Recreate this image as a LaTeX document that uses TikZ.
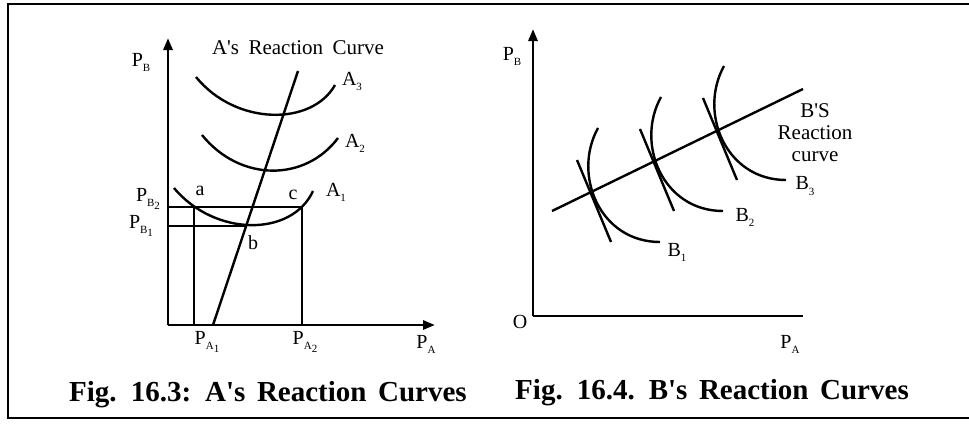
\documentclass[tikz,border=0pt]{standalone}
\usepackage{fontspec}
\setmainfont{Liberation Serif}
\usetikzlibrary{arrows.meta, positioning}
\newcommand\lsub[1]{\raisebox{-0.55ex}{\fontsize{11}{11}\selectfont #1}}
\newcommand\titlefont{\fontsize{21}{21}\selectfont\spaceskip=0.45em\relax}
\newcommand\capfont{\fontsize{29}{29}\selectfont\bfseries\spaceskip=0.4em\relax}
\tikzset{
  every picture/.style={line width=2.4pt, x=1pt, y=-1pt},
  axis/.style={line width=2.8pt, -{Triangle[length=12pt, width=9pt]}},
  curve/.style={line width=2.4pt},
  lbl/.style={font=\fontsize{20}{20}\selectfont, inner sep=0pt},
  title/.style={font=\titlefont, inner sep=0pt},
  caption/.style={font=\capfont, inner sep=0pt},
}

\begin{document}
\begin{tikzpicture}
  \useasboundingbox (0,0) rectangle (969,423);
  % frame
  \draw[line width=2.4pt] (969,4) -- (8,4) -- (8,418) -- (969,418);

  % ---- Fig. 16.3 ----
  \coordinate (oa) at (168,325);
  \coordinate (ya) at (168,38);
  \coordinate (xa) at (435,325);
  \draw[axis] (oa) -- (ya);
  \draw[axis] (oa) -- (xa);
  % reaction curve of A
  \coordinate (ra0) at (213,325);
  \coordinate (ra1) at (298,71);
  \draw[curve] (ra0) -- (ra1);
  % iso-profit curves
  \draw[curve] (196,77) .. controls (236,126) and (312,126) .. (335,85);
  \draw[curve] (202,135) .. controls (240,182) and (305,182) .. (338,138);
  \draw[curve] (174,188) .. controls (215,237) and (292,237) .. (313,191);
  % price lines
  \coordinate (a) at (194,207);
  \coordinate (b) at (246,226);
  \coordinate (c) at (302,207);
  \coordinate (pb2) at (168,207);
  \coordinate (pb1) at (168,226);
  \coordinate (pa1) at (194,325);
  \coordinate (pa2) at (302,325);
  \draw[curve] (pb2) -- (c) -- (pa2);
  \draw[curve] (a) -- (pa1);
  \draw[curve] (pb1) -- (b);
  % labels
  \node[title] (atitle) at (298,48) {A\textquotesingle s Reaction Curve};
  \node[lbl] (lpb) at (141,62) {P\lsub{B}};
  \node[lbl] (lpb2) at (148,199) {P\lsub{B\lsub{2}}};
  \node[lbl] (lpb1) at (141,226) {P\lsub{B\lsub{1}}};
  \node[lbl] (lpa1) at (207,342) {P\lsub{A\lsub{1}}};
  \node[lbl] (lpa2) at (305,342) {P\lsub{A\lsub{2}}};
  \node[lbl] (lpa) at (426,344) {P\lsub{A}};
  \node[lbl] (la) at (200,191) {a};
  \node[lbl] (lc) at (293,195) {c};
  \node[lbl] (lb) at (253,243) {b};
  \node[lbl] (la3) at (352,81) {A\lsub{3}};
  \node[lbl] (la2) at (355,143) {A\lsub{2}};
  \node[lbl] (la1) at (336,192) {A\lsub{1}};
  \node[caption] (cap1) at (268,395) {Fig. 16.3: A\textquotesingle s Reaction Curves};

  % ---- Fig. 16.4 ----
  \coordinate (ob) at (533,316);
  \coordinate (yb) at (533,29);
  \coordinate (xb) at (803,316);
  \draw[axis] (ob) -- (yb);
  \draw[line width=2.8pt] (ob) -- (xb);
  % reaction curve of B
  \coordinate (rb0) at (552,211);
  \coordinate (rb1) at (803,89);
  \draw[curve] (rb0) -- (rb1);
  % iso-profit curves with tangents
  \foreach \i in {0,1,2} {
    \begin{scope}[shift={(63*\i,-31*\i)}]
      \draw[curve] (598,128) .. controls (572,175) and (600,242) .. (660,242);
      \draw[curve] (577,160) -- (611,242);
    \end{scope}
  }
  % labels
  \node[lbl] (lo) at (520,322) {O};
  \node[lbl] (lpbb) at (512,56) {P\lsub{B}};
  \node[lbl] (lpab) at (790,344) {P\lsub{A}};
  \node[lbl] (lb1) at (677,252) {B\lsub{1}};
  \node[lbl] (lb2) at (745,217) {B\lsub{2}};
  \node[lbl] (lb3) at (805,186) {B\lsub{3}};
  \node[title, align=center] (btitle) at (815,133) {B\textquotesingle S\\[1pt]Reaction\\[1pt]curve};
  \node[caption] (cap2) at (712,393) {Fig. 16.4. B\textquotesingle s Reaction Curves};
\end{tikzpicture}
\end{document}
